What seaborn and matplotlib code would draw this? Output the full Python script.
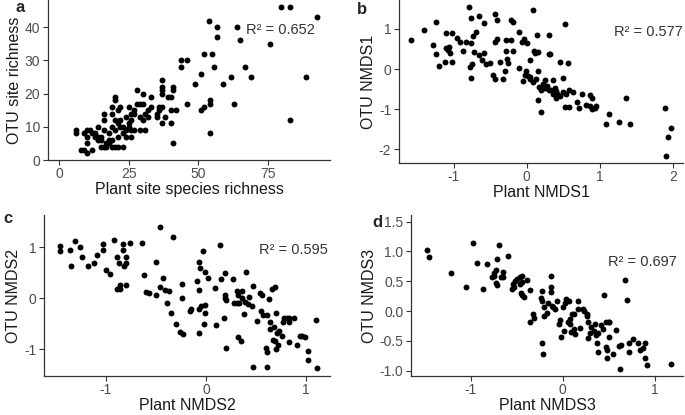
import matplotlib
matplotlib.use('Agg')
import matplotlib.pyplot as plt
import seaborn as sns

# panel a: plant vs OTU site richness
a_x = [79.5, 82.7, 92.5, 53.8, 56.8, 63.9, 56.8, 64.7, 75.6,
       51.8, 54.8, 43.9, 45.9, 43.9, 55.7, 66.7, 50.8, 61.7, 68.7, 88.5,
       48.9, 58.9, 37, 37, 37, 41, 41, 37, 30, 28, 33, 39, 40, 20,
       51.8, 50.8, 54, 54, 62.8, 46, 54, 82.7, 41,
       40, 42, 40, 37, 36, 37, 35, 36, 32, 32, 29, 28, 30, 30,
       26, 27, 29, 31, 26, 26, 27, 24, 23, 24, 22, 19, 21, 19, 20,
       16, 16, 21, 22, 19, 20, 21, 18, 17, 16, 14, 13,
       10, 11, 12, 14, 15, 6, 6, 9, 10, 10, 8, 9, 10, 12,
       13, 14, 15, 20, 19, 21, 23, 17, 15, 18, 19,
       25, 25, 27, 25, 29, 31, 24, 23, 26, 35, 33, 38, 22, 18, 16, 20]
a_y = [46, 46, 43, 42, 40, 40, 37, 36, 35,
       32, 32, 30, 30, 28, 28, 28, 26, 25, 25, 25,
       23, 23, 24, 22, 21, 22, 21, 20, 20, 21, 19, 19, 19, 19,
       16, 15, 18, 17, 17, 17, 8, 12, 5,
       15, 15, 11, 11, 16, 16, 14, 15, 13, 15, 17, 17, 17, 12,
       9, 9, 9, 9, 12, 14, 14, 13, 10, 7, 16, 16, 15, 14, 12,
       14, 12, 11, 10, 10, 9, 7, 6, 5, 4, 10, 8,
       9, 9, 8, 7, 7, 9, 8, 8, 7, 5, 3, 3, 2, 3,
       7, 6, 6, 4, 4, 4, 4, 4, 4, 5, 6,
       10, 11, 15, 16, 13, 14, 9, 8, 7, 13, 16, 13, 12, 8, 9, 18]

# panel b: NMDS1
b_x = [-1.59, -1.41, -1.25, -1.29, -1.25, -1.2, -1.12, -1.1, -1.02,
       -1.1, -1.06, -1.08, -1.05, -1.02, -0.95, -0.92, -0.87, -0.83,
       -0.79, -0.76, -0.78, -0.75, -0.76, -0.74, -0.69, -0.76, -0.72,
       -0.65, -0.65, -0.59, -0.61, -0.58, -0.56, -0.5, -0.44, -0.41,
       -0.43, -0.41, -0.46, -0.43, -0.37, -0.33, -0.3, -0.28, -0.28,
       -0.27, -0.26, -0.22, -0.19, -0.21, -0.19, -0.1, -0.07, -0.04,
       -0.1, 0.0, -0.05, -0.01, 0.02, 0.05, 0.04, 0.08, 0.1,
       0.11, 0.14, 0.12, 0.15, 0.15, 0.2, 0.17, 0.2, 0.23,
       0.16, 0.25, 0.27, 0.3, 0.3, 0.32, 0.3, 0.36, 0.38,
       0.42, 0.36, 0.4, 0.45, 0.5, 0.5, 0.54, 0.53, 0.57,
       0.58, 0.52, 0.58, 0.64, 0.69, 0.71, 0.75, 0.81, 0.87,
       0.89, 0.86, 0.9, 0.95, 0.93, 1.08, 1.12, 1.27, 1.36,
       1.42, 1.9, 1.97, 1.94, 1.91, 0.05, 0.22, 0.33, 0.45,
       0.08, 0.28, -0.02, 0.4]
b_y = [0.72, 0.97, 1.17, 0.6, 0.37, 0.07, 0.18, 0.91, 0.91,
       0.52, 0.56, 0.48, 0.39, 0.17, 0.78, 0.68, 0.46, 0.68,
       1.54, 1.27, 0.06, 0.12, -0.23, 0.83, 0.93, 0.66, 0.42,
       1.32, 0.35, 1.14, 0.22, 0.39, 0.12, 0.16, 1.37, 1.21,
       0.67, 0.74, -0.14, -0.25, 0.17, -0.24, -0.05, 0.72, 0.46,
       0.24, 0.16, 1.21, 1.17, 0.72, 0.46, 0.92, 0.68, 0.74,
       0.03, 0.66, -0.3, -0.05, -0.18, -0.26, 0.22, 1.48, 0.45,
       0.39, 0.85, -0.26, -0.04, -0.76, -1.08, -0.44, -0.51, -0.46,
       0.43, -0.28, -0.46, -0.51, 0.37, 0.37, 0.85, -0.28, -0.46,
       -0.61, -0.62, -0.71, 0.18, -0.23, -0.57, -0.61, 1.12, 0.16,
       -0.51, -0.94, -0.94, -0.56, -0.83, -0.96, -0.62, -0.9, -0.65,
       -0.71, -0.92, -1.0, -0.91, -0.96, -1.36, -1.12, -1.33, -0.72,
       -1.37, -0.97, -1.46, -1.69, -2.16, -0.2, -0.38, -0.52, -0.68,
       -0.32, -0.42, -0.14, -0.55]

# panel c: NMDS2
c_x = [-1.46, -1.46, -1.36, -1.35, -1.31, -1.26, -1.24, -1.18, -1.12,
       -1.09, -1.03, -1.03, -1.0, -0.96, -0.92, -0.89, -0.87, -0.89,
       -0.86, -0.86, -0.8, -0.83, -0.83, -0.82, -0.8, -0.8, -0.76,
       -0.64, -0.62, -0.6, -0.57, -0.5, -0.5, -0.46, -0.46, -0.43,
       -0.41, -0.37, -0.39, -0.35, -0.33, -0.3, -0.26, -0.23, -0.24,
       -0.24, -0.16, -0.15, -0.09, -0.07, -0.06, -0.07, -0.05, -0.07,
       -0.07, -0.03, -0.02, -0.01, -0.01, -0.01, 0.02, 0.09, 0.1,
       0.14, 0.15, 0.19, 0.19, 0.2, 0.19, 0.18, 0.2, 0.27,
       0.28, 0.31, 0.33, 0.31, 0.32, 0.32, 0.35, 0.36, 0.36,
       0.38, 0.4, 0.39, 0.42, 0.43, 0.46, 0.47, 0.47, 0.51,
       0.54, 0.56, 0.55, 0.57, 0.61, 0.6, 0.61, 0.61, 0.63,
       0.64, 0.64, 0.68, 0.66, 0.69, 0.67, 0.69, 0.7, 0.7,
       0.72, 0.71, 0.73, 0.76, 0.78, 0.81, 0.83, 0.77, 0.83,
       0.83, 0.88, 0.91, 0.94, 0.96, 0.99, 1.02, 1.02, 1.1,
       1.11]
c_y = [1.02, 0.93, 0.94, 0.63, 1.13, 1.0, 0.8, 0.63, 0.7,
       0.84, 0.94, 1.07, 0.55, 0.47, 1.15, 0.81, 0.69, 0.19,
       0.19, 0.27, 0.27, 0.95, 1.07, 0.63, 0.69, 0.81, 1.08,
       1.08, 0.45, 0.12, 0.11, 0.72, 0.07, 1.4, 0.23, 0.39,
       0.16, 0.14, -0.09, -0.28, 1.2, -0.51, -0.65, -0.7, 0.28,
       0.0, -0.25, -0.21, 0.34, 0.72, 0.6, -0.21, -0.15, 0.16,
       -0.68, 0.92, -0.5, 0.51, -0.28, -0.14, 0.4, 0.2, -0.52,
       1.04, 0.38, 0.01, 0.06, -0.03, 0.49, -0.38, -0.97, 0.38,
       -0.1, -0.1, -0.1, 0.14, 0.06, -0.76, -0.83, 0.14, 0.01,
       -0.3, 0.52, -0.08, -0.12, 0.03, -0.15, 0.25, -1.35, -0.44,
       0.11, 0.06, -0.25, -0.32, -0.33, -0.98, -1.06, -1.35, -0.01,
       -0.46, -0.61, -0.57, 0.19, 0.23, -0.81, -0.83, -0.28, -0.99,
       -0.92, -0.67, -0.63, -0.73, -0.38, -0.38, -0.38, -0.47, -0.47,
       -0.85, -0.38, -0.92, -0.73, -0.73, -0.76, -1.04, -1.2, -0.42,
       -1.37]

# panel d: NMDS3
d_x = [-1.48, -1.45, -1.22, -1.05, -0.98, -0.93, -0.87, -0.82, -0.75,
       -0.73, -0.71, -0.69, -0.72, -0.71, -0.67, -0.65, -0.59, -0.65,
       -0.77, -0.75, -0.55, -0.53, -0.54, -0.52, -0.5, -0.46, -0.44,
       -0.44, -0.46, -0.45, -0.44, -0.42, -0.39, -0.36, -0.35, -0.32,
       -0.31, -0.22, -0.23, -0.22, -0.2, -0.2, -0.17, -0.22, -0.21,
       -0.13, -0.13, -0.13, -0.16, -0.12, -0.1, -0.08, -0.06, -0.04,
       -0.03, -0.02, 0.0, 0.03, 0.04, 0.07, 0.01, 0.08, 0.08,
       0.06, 0.09, 0.12, 0.14, 0.1, 0.12, 0.17, 0.17, 0.19,
       0.22, 0.23, 0.26, 0.27, 0.28, 0.3, 0.28, 0.31, 0.34,
       0.36, 0.35, 0.39, 0.37, 0.38, 0.42, 0.44, 0.47, 0.45,
       0.47, 0.48, 0.48, 0.5, 0.51, 0.51, 0.55, 0.58, 0.61,
       0.63, 0.62, 0.68, 0.7, 0.72, 0.72, 0.77, 0.82, 0.84,
       0.88, 0.9, 0.9, 0.92, 1.18]
d_y = [1.02, 0.91, 0.63, 0.4, 1.14, 0.8, 0.37, 0.78, 0.59,
       0.69, 0.87, 1.11, 0.47, 0.44, 0.57, 0.65, 0.93, 0.57,
       0.57, 0.63, 0.37, 0.4, 0.46, 0.5, 0.54, 0.57, 0.59,
       0.48, 0.46, 0.3, 0.26, 0.24, 0.52, 0.36, -0.18, -0.05,
       -0.11, 0.33, 0.22, 0.17, 0.06, -0.08, -0.03, -0.54, -0.72,
       0.58, 0.4, 0.32, 0.14, 0.09, 0.07, 0.03, 0.17, -0.22,
       -0.15, -0.44, 0.06, 0.13, 0.2, 0.17, -0.33, -0.13, -0.22,
       -0.18, -0.35, -0.3, -0.39, -0.05, -0.05, 0.04, 0.16, -0.28,
       0.04, 0.0, -0.05, -0.09, -0.18, -0.37, -0.46, -0.27, -0.33,
       -0.4, -0.22, -0.37, -0.54, -0.69, -0.24, -0.3, -0.19, 0.27,
       -0.6, -0.65, -0.79, -0.18, -0.18, -0.43, -0.72, -0.32, -0.59,
       -0.57, -0.97, 0.52, 0.18, -0.68, -0.54, -0.47, -0.54, -0.66,
       -0.62, -0.53, -0.79, -0.9, -0.89]

letters = ['a', 'b', 'c', 'd']
r2_text = ['R\u00b2 = 0.652', 'R\u00b2 = 0.577', 'R\u00b2 = 0.595', 'R\u00b2 = 0.697']
x_labels = ['Plant site species richness', 'Plant NMDS1', 'Plant NMDS2', 'Plant NMDS3']
y_labels = ['OTU site richness', 'OTU NMDS1', 'OTU NMDS2', 'OTU NMDS3']
x_ticks = [[0, 25, 50, 75], [-1, 0, 1, 2], [-1, 0, 1], [-1, 0, 1]]
y_ticks = [[0, 10, 20, 30, 40], [-2, -1, 0, 1], [-1, 0, 1],
           [-1.0, -0.5, 0.0, 0.5, 1.0, 1.5]]
y_ticklabels = [None, None, None, ['-1.0', '-0.5', '0.0', '0.5', '1.0', '1.5']]

sns.set_theme(style='ticks')
plt.rcParams['font.family'] = ['Liberation Sans', 'DejaVu Sans']
plt.rcParams['axes.unicode_minus'] = False

W, H = 685, 415
fig = plt.figure(figsize=(W / 100, H / 100), dpi=100)


def box(l, t, r, b):
    return [l / W, 1 - b / H, (r - l) / W, (b - t) / H]


# pixel boxes of the axes, limits, letter and R2 positions
boxes = [(48, 0, 330, 160), (399, 0, 683, 163), (44, 215, 330, 376), (411, 215, 683, 376)]
xlims = [(-3.9, 97.1), (-1.75, 2.14), (-1.62, 1.24), (-1.65, 1.31)]
ylims = [(0, 48.2), (-2.34, 1.72), (-1.52, 1.63), (-1.09, 1.61)]
letter_pos = [(15, 8), (357, 10), (3, 218), (372, 222)]
r2_pos = [(315, 30), (683, 32), (328, 250), (677, 262)]

data = [(a_x, a_y), (b_x, b_y), (c_x, c_y), (d_x, d_y)]

for i, (xs, ys) in enumerate(data):
    ax = fig.add_axes(box(*boxes[i]))
    sns.scatterplot(x=xs, y=ys, ax=ax, color='black', s=18, linewidth=0)
    ax.set_xlim(*xlims[i])
    ax.set_ylim(*ylims[i])
    ax.set_xticks(x_ticks[i])
    ax.set_yticks(y_ticks[i])
    if y_ticklabels[i]:
        ax.set_yticklabels(y_ticklabels[i])
    ax.set_xlabel(x_labels[i], fontsize=11.5, color='#1a1a1a', labelpad=0.5)
    ax.set_ylabel(y_labels[i], fontsize=11.5, color='#1a1a1a', labelpad=2)
    sns.despine(ax=ax)
    for side in ['left', 'bottom']:
        ax.spines[side].set_color('#333333')
        ax.spines[side].set_linewidth(0.9)
    ax.tick_params(colors='#333333', labelcolor='#4d4d4d', labelsize=10,
                   length=3.5, width=0.8)
    ax.tick_params(axis='x', pad=1.5)
    ax.tick_params(axis='y', pad=2)
    fig.text(letter_pos[i][0] / W, 1 - letter_pos[i][1] / H, letters[i],
             fontsize=12, fontweight='bold', va='center', ha='left')
    fig.text(r2_pos[i][0] / W, 1 - r2_pos[i][1] / H, r2_text[i],
             fontsize=10.5, color='#333333', va='center', ha='right')

fig.savefig('out.png', dpi=100)
